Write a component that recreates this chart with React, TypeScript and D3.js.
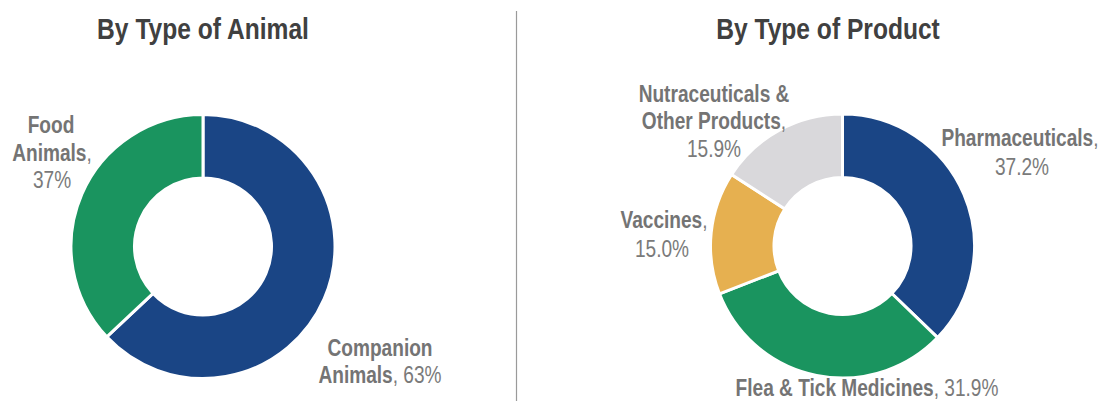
import React from "react";
import * as d3 from "d3";

const animalCategories = ["Companion Animals", "Food Animals"];
const animalValues = [63, 37];
const animalLabels = ["63%", "37%"];
const animalColors = ["#1a4585", "#1a945f"];

const productCategories = [
  "Pharmaceuticals",
  "Flea & Tick Medicines",
  "Vaccines",
  "Nutraceuticals & Other Products",
];
const productValues = [37.2, 31.9, 15.0, 15.9];
const productLabels = ["37.2%", "31.9%", "15.0%", "15.9%"];
const productColors = ["#1a4585", "#1a945f", "#e6b050", "#d9d8db"];

const FONT = "'Liberation Sans', Arial, sans-serif";
const NAME_COLOR = "#747474";
const VALUE_COLOR = "#7a7a7a";
const NARROW = 0.82;

type Line = { x: number; y: number; parts: { t: string; bold: boolean }[] };

function Donut({ cx, cy, values, colors }: { cx: number; cy: number; values: number[]; colors: string[] }) {
  const pie = d3.pie<number>().sort(null).value((d) => d)(values);
  const arc = d3.arc<d3.PieArcDatum<number>>().innerRadius(68.5).outerRadius(132);
  return (
    <g transform={`translate(${cx},${cy})`}>
      {pie.map((p, i) => (
        <path key={i} d={arc(p) || ""} fill={colors[i]} stroke="#ffffff" strokeWidth={3} strokeLinejoin="miter" />
      ))}
    </g>
  );
}

function Label({ lines }: { lines: Line[] }) {
  return (
    <g>
      {lines.map((l, i) => (
        <text
          key={i}
          transform={`translate(${l.x},${l.y}) scale(${NARROW},1)`}
          textAnchor="middle"
          fontFamily={FONT}
          fontSize={23.3}
        >
          {l.parts.map((p, j) => (
            <tspan key={j} fontWeight={p.bold ? "bold" : "normal"} fill={p.bold ? NAME_COLOR : VALUE_COLOR}>
              {p.t}
            </tspan>
          ))}
        </text>
      ))}
    </g>
  );
}

function Title({ x, text }: { x: number; text: string }) {
  return (
    <text
      transform={`translate(${x},39) scale(${NARROW},1)`}
      textAnchor="middle"
      fontFamily={FONT}
      fontSize={30}
      fontWeight="bold"
      fill="#404040"
    >
      {text}
    </text>
  );
}

export default function App() {
  const labelSets: Line[][] = [
    [
      { x: 51, y: 133, parts: [{ t: "Food", bold: true }] },
      { x: 52, y: 161, parts: [{ t: "Animals", bold: true }, { t: ",", bold: false }] },
      { x: 52, y: 188, parts: [{ t: animalLabels[1], bold: false }] },
    ],
    [
      { x: 380, y: 356, parts: [{ t: "Companion", bold: true }] },
      { x: 380, y: 383, parts: [{ t: "Animals", bold: true }, { t: ", " + animalLabels[0], bold: false }] },
    ],
    [
      { x: 1020, y: 146, parts: [{ t: productCategories[0], bold: true }, { t: ",", bold: false }] },
      { x: 1022, y: 175, parts: [{ t: productLabels[0], bold: false }] },
    ],
    [
      { x: 867, y: 396, parts: [{ t: productCategories[1], bold: true }, { t: ", " + productLabels[1], bold: false }] },
    ],
    [
      { x: 664, y: 228, parts: [{ t: productCategories[2], bold: true }, { t: ",", bold: false }] },
      { x: 662, y: 257, parts: [{ t: productLabels[2], bold: false }] },
    ],
    [
      { x: 714, y: 102, parts: [{ t: "Nutraceuticals &", bold: true }] },
      { x: 714, y: 129, parts: [{ t: "Other Products", bold: true }, { t: ",", bold: false }] },
      { x: 714, y: 157, parts: [{ t: productLabels[3], bold: false }] },
    ],
  ];

  return (
    <svg width={1107} height={402} style={{ position: "absolute", left: 0, top: 0, background: "#fff" }}>
      <rect width={1107} height={402} fill="#ffffff" />
      <Title x={203} text="By Type of Animal" />
      <Title x={828} text="By Type of Product" />
      <line x1={516.5} x2={516.5} y1={11} y2={401} stroke="#9a9a9a" strokeWidth={1.2} />
      <Donut cx={203} cy={246.5} values={animalValues} colors={animalColors} />
      <Donut cx={842.5} cy={246} values={productValues} colors={productColors} />
      {labelSets.map((ls, i) => (
        <Label key={i} lines={ls} />
      ))}
    </svg>
  );
}
